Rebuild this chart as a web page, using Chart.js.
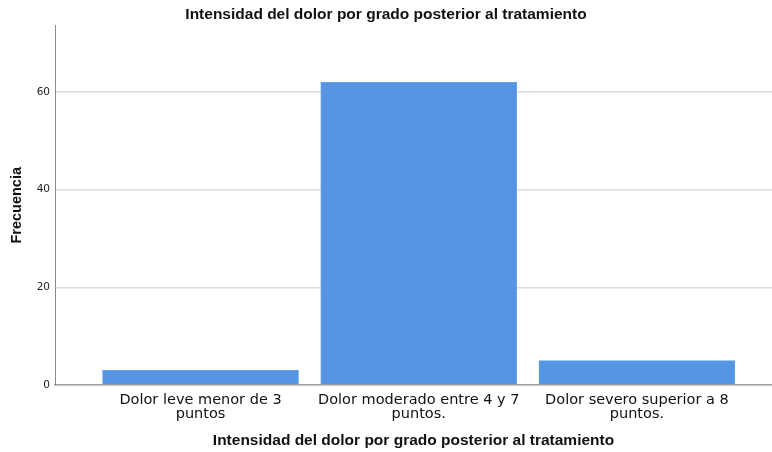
<!DOCTYPE html>
<html>
<head>
<meta charset="utf-8">
<script src="https://cdn.jsdelivr.net/npm/chart.js@4/dist/chart.umd.min.js"></script>
<style>
html,body{margin:0;padding:0;background:#fff;}
#wrap{width:772px;height:452px;position:relative;}
</style>
</head>
<body>
<div id="wrap"><canvas id="c" width="772" height="452"></canvas></div>
<script>
const categories = [
  ["Dolor leve menor de 3", "puntos"],
  ["Dolor moderado entre 4 y 7", "puntos."],
  ["Dolor severo superior a 8", "puntos."]
];
const frecuencia = [3, 62, 5];
const yTicks = [0, 20, 40, 60];
const chartTitle = "Intensidad del dolor por grado posterior al tratamiento";
const xTitle = "Intensidad del dolor por grado posterior al tratamiento";
const yTitle = "Frecuencia";

const points = frecuencia.map((v, i) => ({x: i, y: v}));

new Chart(document.getElementById('c'), {
  type: 'bar',
  data: {
    datasets: [{
      data: points,
      backgroundColor: '#5694e4',
      borderColor: '#6aa2ea',
      borderWidth: 1,
      borderSkipped: 'bottom',
      barThickness: 196
    }]
  },
  options: {
    responsive: false,
    animation: false,
    layout: {padding: 0},
    plugins: {
      legend: {display: false},
      tooltip: {enabled: false},
      title: {
        display: true,
        text: chartTitle,
        color: '#111',
        font: {family: 'Liberation Sans', size: 15.5, weight: 'bold', lineHeight: 1.2},
        padding: {top: 5, bottom: 2}
      }
    },
    scales: {
      x: {
        type: 'linear',
        offset: false,
        min: -0.667,
        max: 2.619,
        afterBuildTicks: (s) => { s.ticks = categories.map((_, i) => ({value: i})); },
        afterFit: (s) => { s.height = 67; },
        ticks: {
          autoSkip: false,
          maxRotation: 0,
          padding: 8,
          color: '#111',
          font: {family: 'DejaVu Sans', size: 14.5, lineHeight: 0.98},
          callback: (v) => categories[v]
        },
        grid: {display: true, color: 'rgba(0,0,0,0)', drawTicks: false, offset: false},
        border: {display: true, color: '#a0a0a0', width: 1.5},
        title: {
          display: true,
          text: xTitle,
          color: '#111',
          font: {family: 'Liberation Sans', size: 15.5, weight: 'bold', lineHeight: 1.2},
          padding: {top: 0, bottom: 2}
        }
      },
      y: {
        min: 0,
        max: 73.6,
        afterBuildTicks: (s) => { s.ticks = yTicks.map(v => ({value: v})); },
        afterFit: (s) => { s.width = 55; },
        ticks: {
          padding: 5,
          color: '#222',
          font: {family: 'DejaVu Sans', size: 10.5}
        },
        grid: {color: '#dcdcdc', lineWidth: 1.5, drawTicks: false},
        border: {display: true, color: '#8a8a8a', width: 1},
        title: {
          display: true,
          text: yTitle,
          color: '#111',
          font: {family: 'Liberation Sans', size: 14.5, weight: 'bold', lineHeight: 1.2},
          padding: {top: 8, bottom: 0}
        }
      }
    }
  }
});
</script>
</body>
</html>
